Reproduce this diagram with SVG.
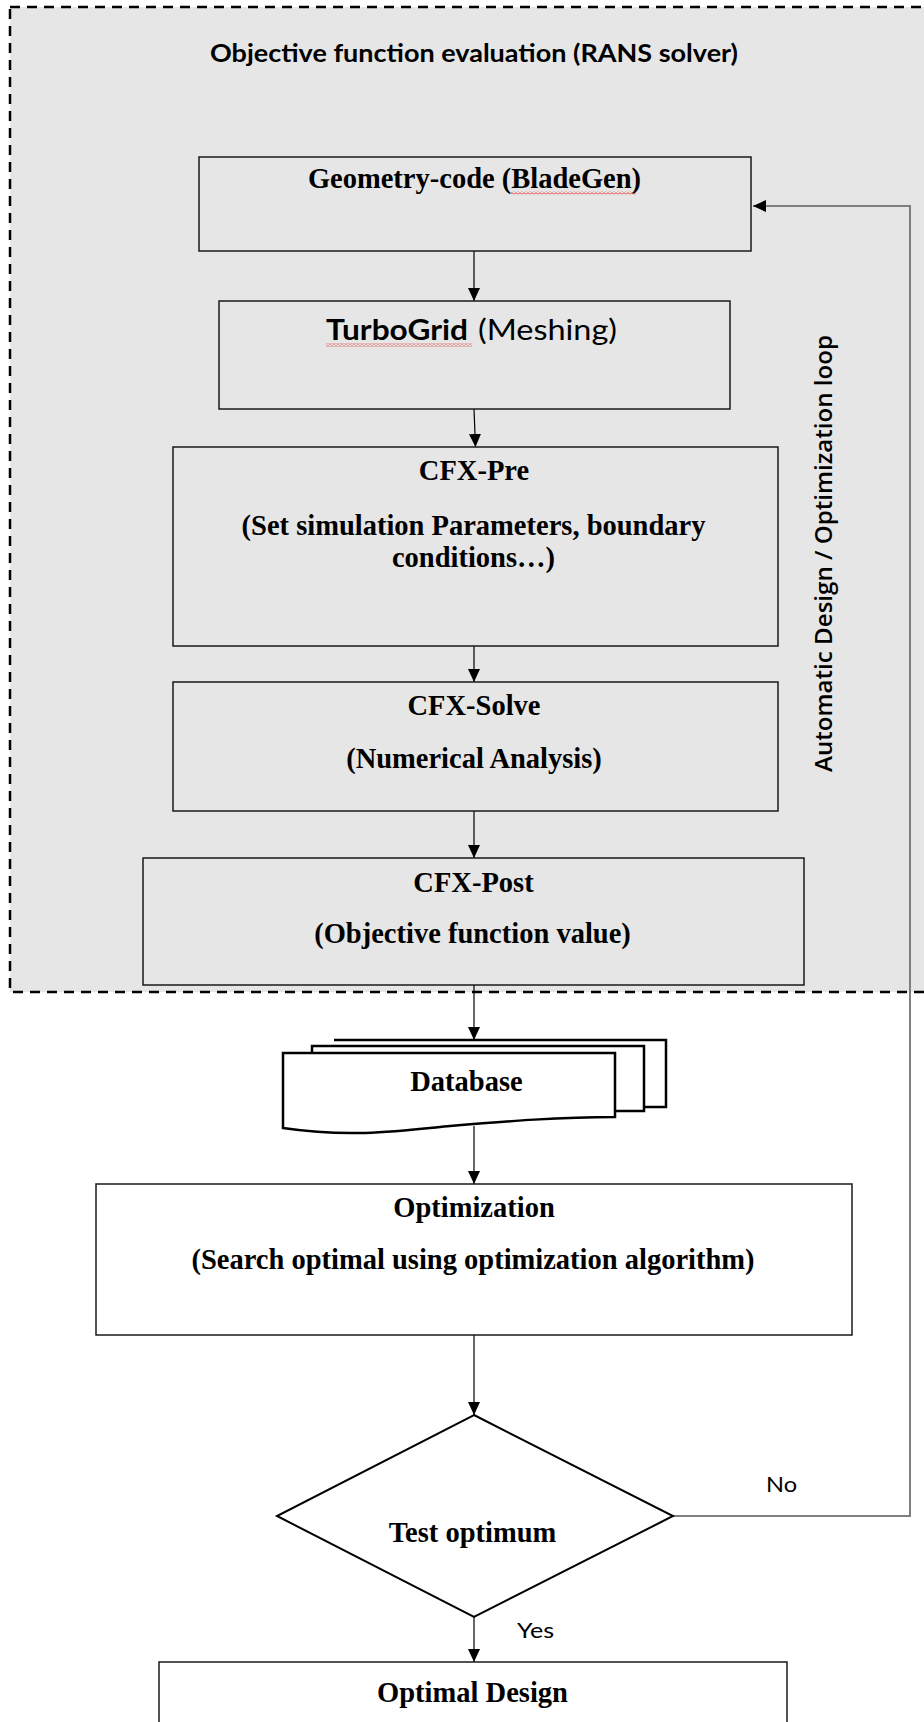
<svg xmlns="http://www.w3.org/2000/svg" width="924" height="1722" viewBox="0 0 924 1722">
<style>
.box{stroke:#1a1a1a;stroke-width:1.5}
.in{fill:#e6e6e6}
.out{fill:#ffffff}
.sheet{fill:#ffffff;stroke:#000;stroke-width:2.5}
.conn{fill:none;stroke:#000;stroke-width:1.2}
.loop{fill:none;stroke:#7f7f7f;stroke-width:2}
.tnr{font-family:"Liberation Serif","Times New Roman",serif;font-weight:bold;font-size:28.5px;fill:#000;text-anchor:middle}
.cal{font-family:Lato,"Liberation Sans",sans-serif;fill:#000}
.vert{font-family:"Open Sans","DejaVu Sans",sans-serif;font-weight:600;font-size:24px;fill:#000;text-anchor:middle}
</style>
<defs>
<marker id="arr" markerUnits="userSpaceOnUse" markerWidth="13" markerHeight="12" refX="13" refY="6" orient="auto" viewBox="0 0 13 12">
<path d="M0,0 L13,6 L0,12 z" fill="#000"/>
</marker>
<pattern id="squig" patternUnits="userSpaceOnUse" x="0" y="0" width="4" height="3">
<path d="M0,0.6 L2,2.4 L4,0.6" fill="none" stroke="#e03030" stroke-width="0.9"/>
</pattern>
</defs>

<g id="container">
<rect x="10" y="7" width="925" height="985" fill="#e6e6e6" stroke="#000" stroke-width="2.5" stroke-dasharray="10,7"/>
<text class="cal" x="210" y="62" font-size="25" font-weight="bold" textLength="528" lengthAdjust="spacingAndGlyphs">Objective function evaluation (RANS solver)</text>
</g>

<g id="loop-label">
<text class="vert" transform="translate(832,553.5) rotate(-90)" x="0" y="0" textLength="437" lengthAdjust="spacingAndGlyphs">Automatic Design / Optimization loop</text>
</g>

<g id="connectors">
<line class="conn" x1="474" y1="251" x2="474" y2="301" marker-end="url(#arr)"/>
<line class="conn" x1="474" y1="409" x2="475.5" y2="447" marker-end="url(#arr)"/>
<line class="conn" x1="474" y1="646" x2="474" y2="682" marker-end="url(#arr)"/>
<line class="conn" x1="474" y1="811" x2="474" y2="858" marker-end="url(#arr)"/>
<line class="conn" x1="474" y1="985" x2="474" y2="1040" marker-end="url(#arr)"/>
<line class="conn" x1="474" y1="1126" x2="474" y2="1184" marker-end="url(#arr)"/>
<line class="conn" x1="474" y1="1335" x2="474" y2="1415" marker-end="url(#arr)"/>
<line class="conn" x1="474" y1="1617" x2="474" y2="1662" marker-end="url(#arr)"/>
<path class="loop" d="M673,1516 H910 V206 H753" marker-end="url(#arr)"/>
<text class="cal" x="766" y="1492" font-size="22" textLength="31" lengthAdjust="spacingAndGlyphs">No</text>
<text class="cal" x="517" y="1638" font-size="22" textLength="37" lengthAdjust="spacingAndGlyphs">Yes</text>
</g>

<g id="geometry">
<rect class="box in" x="199" y="157" width="552" height="94"/>
<text class="tnr" x="474.5" y="188">Geometry-code (BladeGen)</text>
<rect x="511" y="191.5" width="125" height="3" fill="url(#squig)"/>
</g>

<g id="turbogrid">
<rect class="box in" x="219" y="301" width="511" height="108"/>
<text class="cal" x="326" y="340" font-size="29" font-weight="bold" textLength="142" lengthAdjust="spacingAndGlyphs">TurboGrid</text>
<text class="cal" x="478" y="340" font-size="29" textLength="139" lengthAdjust="spacingAndGlyphs">(Meshing)</text>
<rect x="326" y="343.5" width="146" height="3" fill="url(#squig)"/>
</g>

<g id="cfx-pre">
<rect class="box in" x="173" y="447" width="605" height="199"/>
<text class="tnr" x="474" y="480">CFX-Pre</text>
<text class="tnr" x="473.5" y="535">(Set simulation Parameters, boundary</text>
<text class="tnr" x="473.5" y="567">conditions…)</text>
</g>

<g id="cfx-solve">
<rect class="box in" x="173" y="682" width="605" height="129"/>
<text class="tnr" x="474" y="715">CFX-Solve</text>
<text class="tnr" x="474" y="768">(Numerical Analysis)</text>
</g>

<g id="cfx-post">
<rect class="box in" x="143" y="858" width="661" height="127"/>
<text class="tnr" x="473.5" y="892">CFX-Post</text>
<text class="tnr" x="472.5" y="943">(Objective function value)</text>
</g>

<g id="database">
<path class="sheet" d="M334,1040 H666 V1107 H644"/>
<path class="sheet" d="M312,1053 V1046 H644 V1111 H615"/>
<path class="sheet" d="M283,1053 H615 V1117 C560,1117 510,1121 450,1126 C400,1131 350,1138 283,1128 Z"/>
<text class="tnr" x="466.5" y="1091">Database</text>
</g>

<g id="optimization">
<rect class="box out" x="96" y="1184" width="756" height="151"/>
<text class="tnr" x="474" y="1217">Optimization</text>
<text class="tnr" x="473" y="1269">(Search optimal using optimization algorithm)</text>
</g>

<g id="test-optimum">
<polygon points="474,1415 673,1516 474,1617 277,1516" fill="#fff" stroke="#000" stroke-width="2"/>
<text class="tnr" x="472.5" y="1542">Test optimum</text>
</g>

<g id="optimal-design">
<rect class="box out" x="159" y="1662" width="628" height="80"/>
<text class="tnr" x="472.5" y="1702">Optimal Design</text>
</g>
</svg>
